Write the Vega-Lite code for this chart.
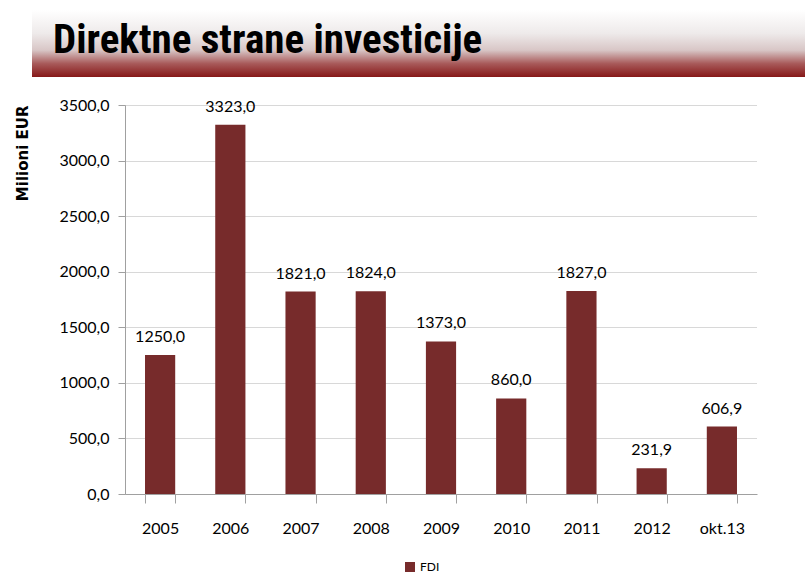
{
  "$schema": "https://vega.github.io/schema/vega-lite/v6.json",
  "padding": {"left": 15, "top": 10, "right": 0, "bottom": 0},
  "autosize": {"type": "pad"},
  "background": "white",
  "config": {
    "view": {"stroke": null},
    "locale": {"number": {"decimal": ",", "thousands": ".", "grouping": [3], "currency": ["", ""]}}
  },
  "spacing": 20,
  "vconcat": [
    {
      "width": 682,
      "height": 67,
      "data": {"values": [{"title": "Direktne strane investicije"}]},
      "layer": [
        {
          "mark": {
            "type": "rect",
            "fill": {
              "gradient": "linear", "x1": 0, "y1": 0, "x2": 0, "y2": 1,
              "stops": [
                {"offset": 0, "color": "#ffffff"},
                {"offset": 0.35, "color": "#eeeaea"},
                {"offset": 0.6, "color": "#d8c6c6"},
                {"offset": 0.8, "color": "#a85a5a"},
                {"offset": 1, "color": "#861818"}
              ]
            }
          },
          "encoding": {
            "x": {"value": -93},
            "x2": {"value": 682}
          }
        },
        {
          "mark": {"type": "text", "align": "left", "baseline": "alphabetic", "font": "Roboto Condensed, Liberation Sans", "fontSize": 41, "fontWeight": "bold", "color": "black"},
          "encoding": {
            "text": {"field": "title"},
            "x": {"value": -72},
            "y": {"value": 43}
          }
        }
      ]
    },
    {
      "width": 632,
      "height": 389,
      "data": {
        "values": [
          {"year": "2005", "value": 1250.0, "series": "FDI"},
          {"year": "2006", "value": 3323.0, "series": "FDI"},
          {"year": "2007", "value": 1821.0, "series": "FDI"},
          {"year": "2008", "value": 1824.0, "series": "FDI"},
          {"year": "2009", "value": 1373.0, "series": "FDI"},
          {"year": "2010", "value": 860.0, "series": "FDI"},
          {"year": "2011", "value": 1827.0, "series": "FDI"},
          {"year": "2012", "value": 231.9, "series": "FDI"},
          {"year": "okt.13", "value": 606.9, "series": "FDI"}
        ]
      },
      "encoding": {
        "x": {
          "field": "year", "type": "nominal", "sort": null, "title": null,
          "scale": {"paddingInner": 0.57, "paddingOuter": 0.285},
          "axis": {
            "labelAngle": 0, "tickBand": "extent", "domainColor": "#a0a0a0", "tickColor": "#a0a0a0",
            "tickSize": 9, "labelFont": "Lato", "labelFontSize": 16, "labelColor": "black",
            "labelPadding": 17, "grid": false
          }
        },
        "y": {
          "field": "value", "type": "quantitative",
          "scale": {"domain": [0, 3500]},
          "title": "Milioni EUR",
          "axis": {
            "values": [0, 500, 1000, 1500, 2000, 2500, 3000, 3500],
            "format": ".1f",
            "titleAnchor": "end", "titleFont": "DejaVu Sans", "titleFontWeight": "bold", "titleFontSize": 15,
            "titleColor": "black", "titlePadding": 28,
            "labelFont": "Lato", "labelFontSize": 16, "labelColor": "black",
            "tickSize": 7, "labelPadding": 9,
            "domainColor": "#a0a0a0", "tickColor": "#a0a0a0",
            "gridColor": "#b0b0b0", "gridDash": [1, 1]
          }
        }
      },
      "layer": [
        {
          "mark": {"type": "bar"},
          "encoding": {
            "color": {
              "field": "series", "type": "nominal",
              "scale": {"range": ["#772b2b"]},
              "legend": {"orient": "none", "legendX": 279, "legendY": 551, "title": null, "symbolType": "square", "labelFont": "Lato", "labelFontSize": 12, "labelColor": "black", "symbolSize": 100, "symbolStrokeWidth": 0}
            }
          }
        },
        {
          "mark": {"type": "text", "baseline": "alphabetic", "dy": -13, "font": "Lato", "fontSize": 16, "color": "black"},
          "encoding": {"text": {"field": "value", "type": "quantitative", "format": ".1f"}}
        }
      ]
    }
  ]
}
